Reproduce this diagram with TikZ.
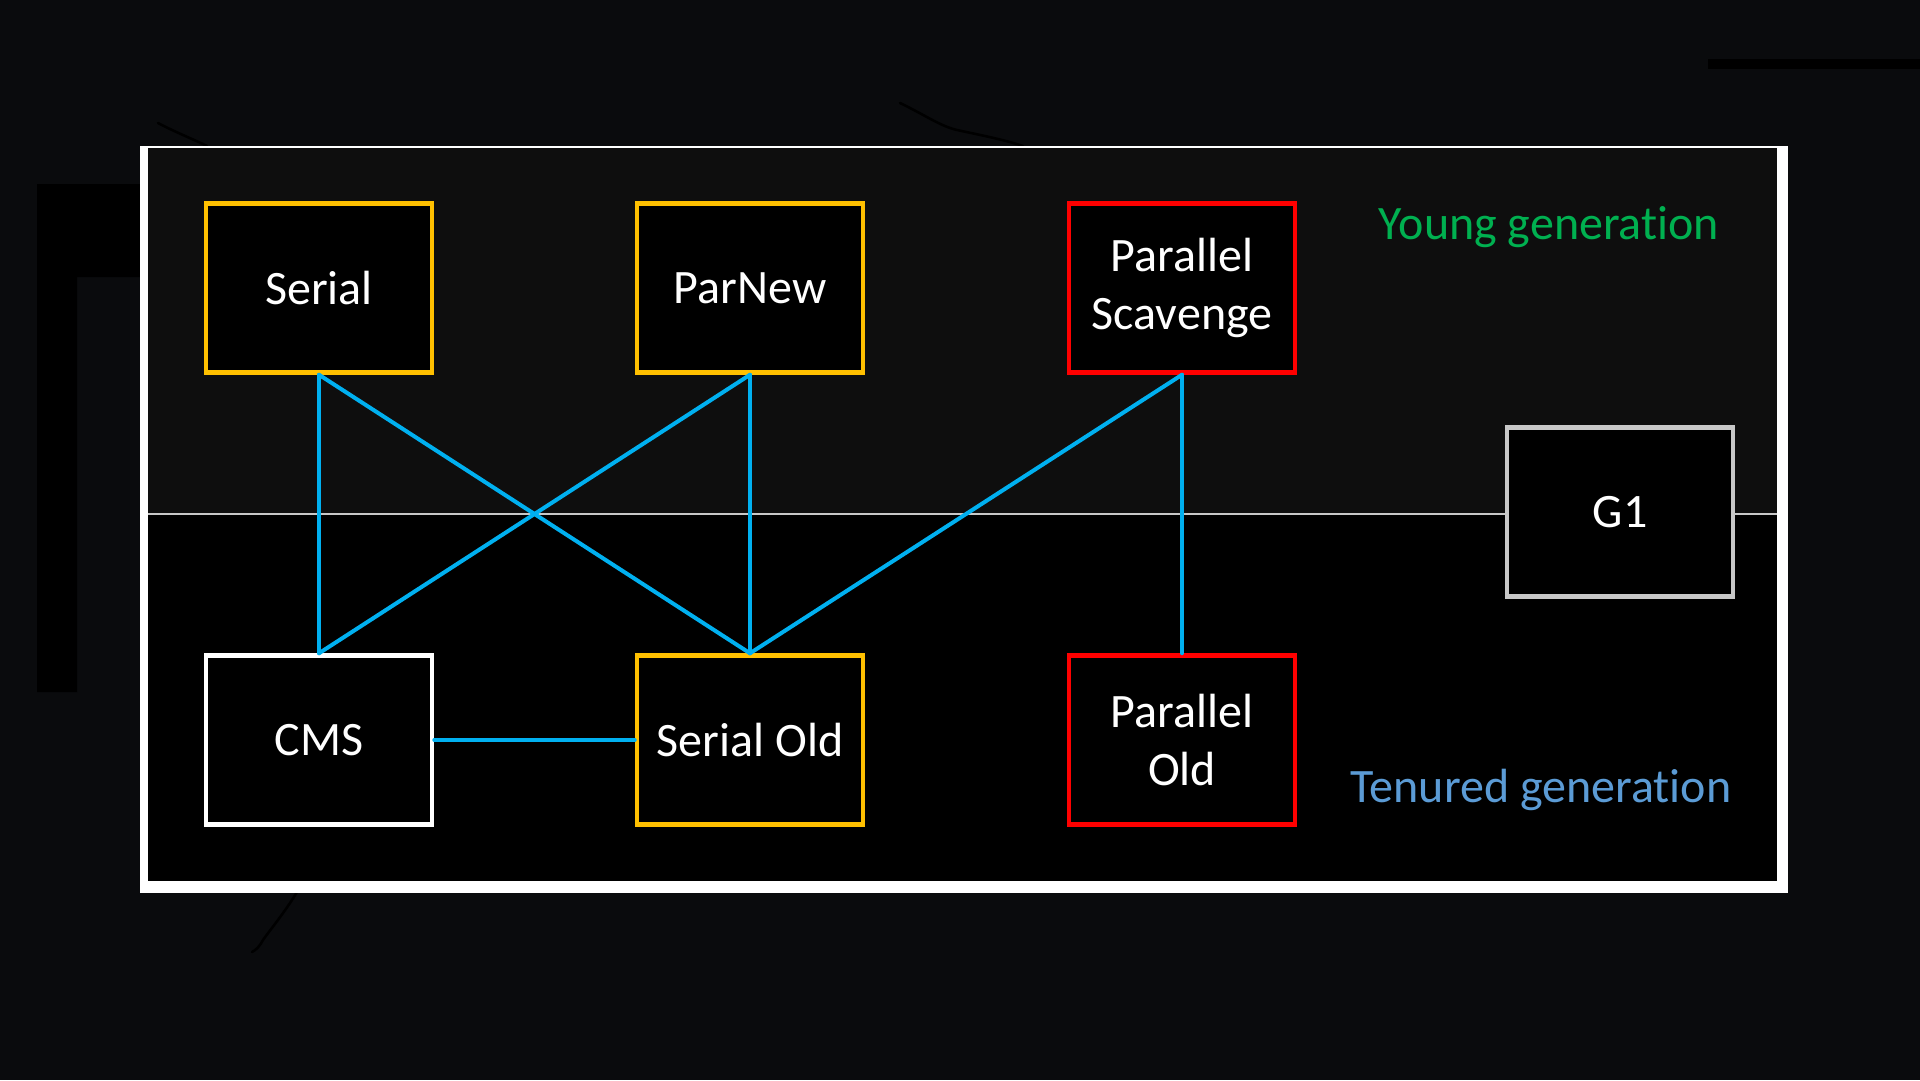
\documentclass[tikz,border=0pt]{standalone}
\usepackage{fontspec}
\setmainfont{Carlito}[Ligatures={NoCommon}]
\usetikzlibrary{calc}
\definecolor{bgdark}{HTML}{0A0B0D}
\definecolor{panelup}{HTML}{0E0E0E}
\definecolor{gcyellow}{HTML}{FFC000}
\definecolor{gcred}{HTML}{FF0000}
\definecolor{gcgray}{HTML}{C8C8C8}
\definecolor{gcblue}{HTML}{00B0F0}
\definecolor{younggreen}{HTML}{00B050}
\definecolor{tenuredblue}{HTML}{5B9BD5}
\newcommand{\gcfont}{\fontsize{48}{58}\selectfont}
\newcommand{\gclink}[2]{\draw[gclinkline] (#1) -- (#2)}
\tikzset{
  gcbox/.style={draw=#1, line width=4.5pt, fill=black, text=white, align=center,
    minimum width=226pt, minimum height=169pt, inner sep=0pt, font=\gcfont},
  gclinkline/.style={gcblue, line width=4pt, line cap=round},
  genlabel/.style={font=\gcfont, inner sep=0pt}
}

\begin{document}
\begin{tikzpicture}[x=1pt, y=-1pt]
                    \useasboundingbox (0,0) rectangle (1920,1080);
                    \fill[bgdark] (0,0) rectangle (1920,1080);
                    \fill[black] (37,184) -- (141,184) -- (141,277) -- (77,277) -- (77,692) -- (37,692) -- cycle;
                    \fill[black] (1708,59) rectangle (1920,69);
                    \draw[black, line width=2.5pt, line cap=round] (158,123) .. controls (175,132) and (195,140) .. (207,146);
                    \draw[black, line width=2.5pt, line cap=round] (900,103) .. controls (925,115) and (940,126) .. (957,130) .. controls (985,136) and (1005,140) .. (1023,146);
                    \draw[black, line width=2.5pt, line cap=round] (297,892) .. controls (285,912) and (270,930) .. (263,940) .. controls (260,946) and (256,950) .. (252,952);

                    \fill[white] (140,146) rectangle (1788,893);
                    \fill[panelup] (148,148) rectangle (1777,514);
                    \fill[black] (148,514) rectangle (1777,881);
                    \draw[gcgray, line width=2pt] (148,514) -- (1777,514);

                    \node[gcbox=gcyellow] (serial) at (319,288) {Serial};
                    \node[gcbox=gcyellow] (parnew) at (750,288) {ParNew};
                    \node[gcbox=gcred] (pscav) at (1182,288) {Parallel\\Scavenge};
                    \node[gcbox=gcgray] (g1) at (1620,512) {G1};
                    \node[gcbox=white] (cms) at (319,740) {CMS};
                    \node[gcbox=gcyellow] (serialold) at (750,740) {Serial Old};
                    \node[gcbox=gcred] (pold) at (1182,740) {Parallel\\Old};

                    \node[genlabel, text=younggreen] (young) at (1549,227) {Young generation};
                    \node[genlabel, text=tenuredblue] (tenured) at (1541,790) {Tenured generation};

                    \gclink{serial.south}{cms.north};
                    \gclink{serial.south}{serialold.north};
                    \gclink{parnew.south}{cms.north};
                    \gclink{parnew.south}{serialold.north};
                    \gclink{pscav.south}{serialold.north};
                    \gclink{pscav.south}{pold.north};
                    \gclink{cms.east}{serialold.west};
                \end{tikzpicture}
\end{document}
